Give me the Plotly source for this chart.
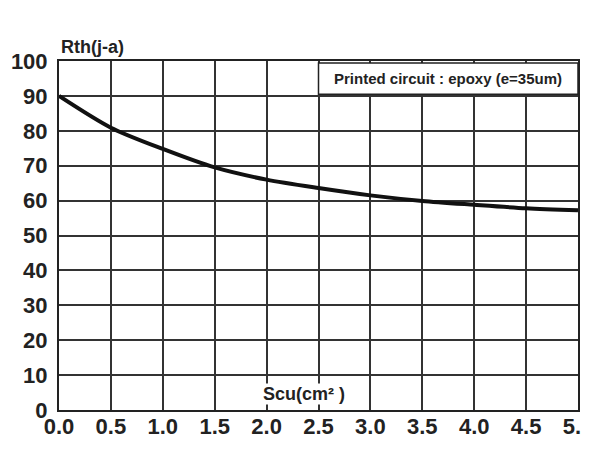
import plotly.graph_objects as go

# Data
scu = [0.0, 0.5, 1.0, 1.5, 2.0, 2.5, 3.0, 3.5, 4.0, 4.5, 5.0]
rth = [90.0, 80.9, 74.8, 69.5, 66.0, 63.6, 61.5, 59.9, 58.8, 57.8, 57.2]

x_ticks = [0.0, 0.5, 1.0, 1.5, 2.0, 2.5, 3.0, 3.5, 4.0, 4.5, 5.0]
x_ticktext = ["0.0", "0.5", "1.0", "1.5", "2.0", "2.5", "3.0", "3.5", "4.0", "4.5", "5.0"]
y_ticks = [0, 10, 20, 30, 40, 50, 60, 70, 80, 90, 100]
y_ticktext = [str(v) for v in y_ticks]

legend_text = "Printed circuit : epoxy (e=35um)"
x_title = "Scu(cm² )"
y_title = "Rth(j-a)"

FONT = "Liberation Sans, Arial, sans-serif"
GRID = "#333333"

fig = go.Figure()
fig.add_trace(go.Scatter(
    x=scu, y=rth, mode="lines",
    line=dict(color="#111111", width=4, shape="spline", smoothing=0.8),
    showlegend=False, hoverinfo="skip",
))

fig.update_layout(
    width=589, height=473,
    margin=dict(l=51, r=19, t=53, b=71, autoexpand=False),
    paper_bgcolor="white", plot_bgcolor="white",
    font=dict(family=FONT, color="#222222"),
    xaxis=dict(
        range=[0, 5], tickvals=x_ticks, ticktext=x_ticktext,
        showgrid=True, gridcolor=GRID, gridwidth=1.5,
        showline=True, linecolor="#222222", linewidth=2, mirror=True,
        zeroline=False, ticks="", ticklabelstandoff=-4, automargin=False,
        ticklabeloverflow="allow",
        tickfont=dict(family=FONT, size=22, color="#222222", weight="bold"),
    ),
    yaxis=dict(
        range=[0, 100], tickvals=y_ticks, ticktext=y_ticktext,
        showgrid=True, gridcolor=GRID, gridwidth=1.5,
        showline=True, linecolor="#222222", linewidth=2, mirror=True,
        zeroline=False, ticks="", ticklabelstandoff=5, automargin=False,
        ticklabeloverflow="allow",
        tickfont=dict(family=FONT, size=22, color="#222222", weight="bold"),
    ),
)

# legend-like box
fig.add_shape(type="rect", xref="x", yref="y", x0=2.5, x1=5.0, y0=90.5, y1=99.4,
              fillcolor="white", line=dict(color="#222222", width=1.5), layer="above")
fig.add_annotation(x=3.75, y=95, xref="x", yref="y", text=legend_text, showarrow=False,
                   font=dict(family=FONT, size=15, color="#222222", weight="bold"))

fig.add_annotation(x=2.365, y=4.6, xref="x", yref="y", text=x_title, showarrow=False,
                   bgcolor="white", borderpad=0,
                   font=dict(family=FONT, size=18, color="#222222", weight="bold"))

fig.add_annotation(x=0.0, y=1.04, xref="paper", yref="paper", text=y_title,
                   showarrow=False, xanchor="left", yanchor="middle",
                   font=dict(family=FONT, size=18, color="#222222", weight="bold"))

fig.write_html("out.html")
